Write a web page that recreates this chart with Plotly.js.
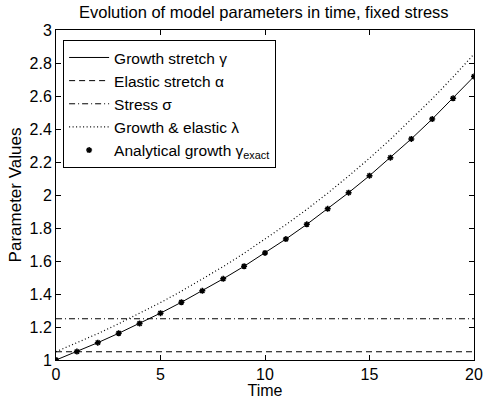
<!DOCTYPE html>
<html>
<head>
<meta charset="utf-8">
<script src="https://cdn.plot.ly/plotly-3.0.1.min.js"></script>
<style>html,body{margin:0;padding:0;background:#fff}#chart{width:484px;height:399px}</style>
</head>
<body>
<div id="chart"></div>
<script>
const time = [0,1,2,3,4,5,6,7,8,9,10,11,12,13,14,15,16,17,18,19,20];
const growthStretch = [1.000,1.051,1.105,1.162,1.221,1.284,1.350,1.419,1.492,1.568,1.649,1.733,1.822,1.916,2.014,2.117,2.226,2.340,2.460,2.586,2.718];
const elasticStretch = [1.05,1.05,1.05,1.05,1.05,1.05,1.05,1.05,1.05,1.05,1.05,1.05,1.05,1.05,1.05,1.05,1.05,1.05,1.05,1.05,1.05];
const stress = [1.25,1.25,1.25,1.25,1.25,1.25,1.25,1.25,1.25,1.25,1.25,1.25,1.25,1.25,1.25,1.25,1.25,1.25,1.25,1.25,1.25];
const growthElastic = [1.050,1.104,1.160,1.220,1.282,1.348,1.417,1.490,1.566,1.647,1.731,1.820,1.913,2.011,2.115,2.223,2.337,2.457,2.583,2.715,2.854];
const analyticalGrowth = [1.000,1.051,1.105,1.162,1.221,1.284,1.350,1.419,1.492,1.568,1.649,1.733,1.822,1.916,2.014,2.117,2.226,2.340,2.460,2.586,2.718];
const seriesNames = ['Growth stretch γ','Elastic stretch α','Stress σ','Growth &amp; elastic λ','Analytical growth γ<sub>exact</sub>'];
const yTicks = [1,1.2,1.4,1.6,1.8,2,2.2,2.4,2.6,2.8,3];
const xTicks = [0,5,10,15,20];

const font = 'Liberation Sans, Arial, sans-serif';
const traces = [
  {x: time, y: growthStretch, name: seriesNames[0], mode: 'lines', line: {color: '#000', width: 1, dash: 'solid'}},
  {x: time, y: elasticStretch, name: seriesNames[1], mode: 'lines', line: {color: '#000', width: 1, dash: '6px,4px'}},
  {x: time, y: stress, name: seriesNames[2], mode: 'lines', line: {color: '#000', width: 1, dash: '6px,3px,1px,3px'}},
  {x: time, y: growthElastic, name: seriesNames[3], mode: 'lines', line: {color: '#000', width: 1.2, dash: '1px,2.5px'}},
  {x: time, y: analyticalGrowth, name: seriesNames[4], mode: 'markers', marker: {symbol: 'asterisk-open', size: 5, color: '#000', line: {color: '#000', width: 1.5}}}
];
const axisCommon = {
  showgrid: false, zeroline: false, showline: true, linecolor: '#000', linewidth: 1,
  mirror: 'ticks', ticks: 'inside', ticklen: 5, tickcolor: '#000', tickwidth: 1,
  tickfont: {family: font, size: 16, color: '#000'}
};
const layout = {
  width: 484, height: 399,
  margin: {l: 56, r: 10, t: 30, b: 39},
  paper_bgcolor: '#fff', plot_bgcolor: '#fff',
  font: {family: font, size: 16, color: '#000'},
  title: {text: 'Evolution of model parameters in time, fixed stress', font: {family: font, size: 16.5, color: '#000'}, x: 0.545, xanchor: 'center', y: 0.97, yanchor: 'middle'},
  xaxis: Object.assign({}, axisCommon, {range: [0, 20], tickvals: xTicks, ticktext: xTicks.map(String), title: {text: 'Time', font: {family: font, size: 16}, standoff: 1}}),
  yaxis: Object.assign({}, axisCommon, {range: [1, 3], tickvals: yTicks, ticktext: yTicks.map(String), title: {text: 'Parameter Values', font: {family: font, size: 17}, standoff: 3}}),
  showlegend: true,
  legend: {x: 0.017, y: 0.97, xanchor: 'left', yanchor: 'top', bgcolor: '#fff', bordercolor: '#000', borderwidth: 1, font: {family: font, size: 15.5, color: '#000'}, tracegroupgap: 0, itemwidth: 40}
};
Plotly.newPlot('chart', traces, layout, {displayModeBar: false, staticPlot: true});
</script>
</body>
</html>
